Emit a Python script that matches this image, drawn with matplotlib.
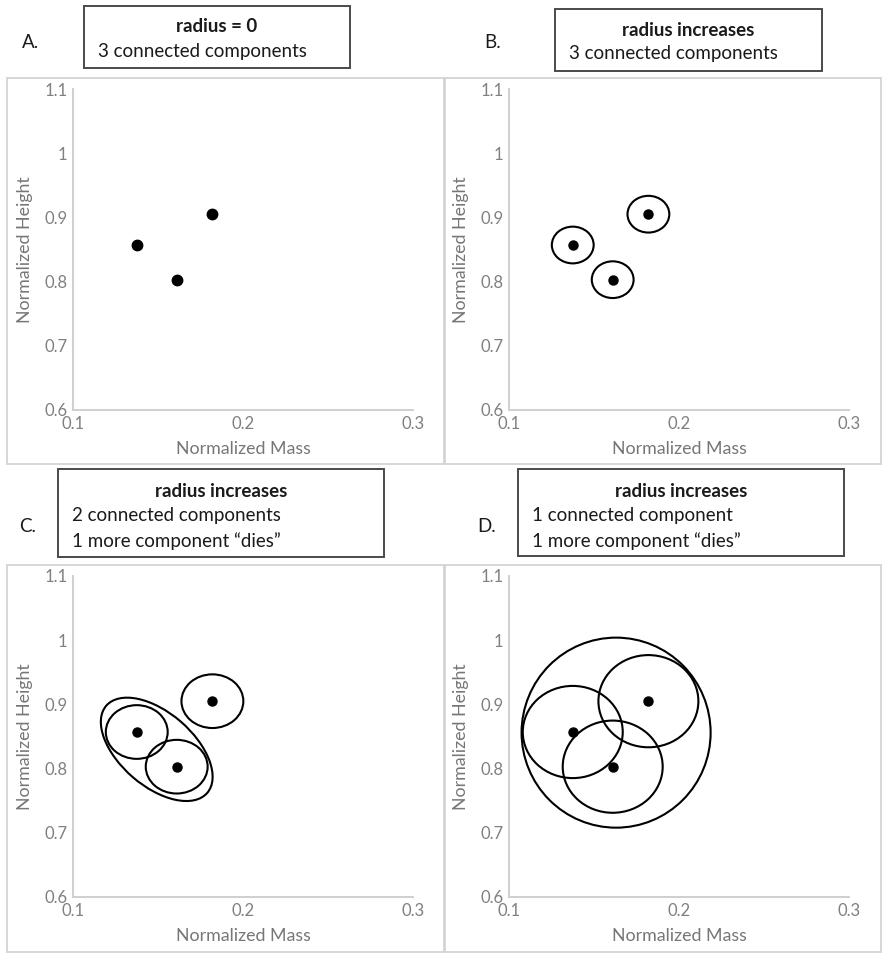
import matplotlib
matplotlib.use("Agg")
import matplotlib.pyplot as plt
from matplotlib.patches import Rectangle, Ellipse
from matplotlib.transforms import ScaledTranslation
import numpy as np

plt.rcParams['font.family'] = ['Lato', 'DejaVu Sans']

# ---- data ----
mass = [0.1375, 0.161, 0.182]
height = [0.857, 0.803, 0.905]
x_ticks = [0.1, 0.2, 0.3]
x_ticklabels = ["0.1", "0.2", "0.3"]
y_ticks = [0.6, 0.7, 0.8, 0.9, 1.0, 1.1]
y_ticklabels = ["0.6", "0.7", "0.8", "0.9", "1", "1.1"]
panel_letters = ["A.", "B.", "C.", "D."]
panel_titles = ["radius = 0", "radius increases", "radius increases", "radius increases"]
panel_lines = [["3 connected components"],
               ["3 connected components"],
               ["2 connected components", "1 more component \u201cdies\u201d"],
               ["1 connected component", "1 more component \u201cdies\u201d"]]
# ball semi-axes (data units) per panel: (x-radius, y-radius); None = no balls
ball_radii = [None, (0.0123, 0.0286), (0.0182, 0.0418), (0.0294, 0.0718)]
# panel C: merged component of points 0 and 1 (semi-axes in inches, angle in degrees)
merged_idx = [0, 1]
merged_axes_in = (0.667, 0.367)
merged_angle = -40.8
# panel D: single enclosing component
big_center = (0.163, 0.856)
big_radii = (0.0556, 0.148)

W, H = 889, 960
fig = plt.figure(figsize=(W / 100, H / 100), dpi=100)

def fx(x):
    return x / W

def fy(y):
    return 1 - y / H

axes_px = [(73, 413, 89, 410), (509, 849, 89, 410), (73, 413, 576, 897), (509, 849, 576, 897)]
frames_px = [(7, 444, 78, 464), (445, 881, 78, 464), (7, 444, 565, 952), (445, 881, 565, 952)]
boxes_px = [(84, 350, 6, 68), (555, 822, 9, 71), (58, 384, 469, 557), (518, 844, 469, 556)]
letters_px = [(30, 42), (493, 43), (28, 527), (487, 527)]
title_y = [[27, 52], [30, 54], [492, 516, 541], [492, 516, 541]]

tick_col = '#808080'
label_col = '#767676'
axis_col = '#cfcfcf'
box_col = '#4a4a4a'
text_col = '#1a1a1a'

for i in range(4):
    # outer frame
    l, r, t, b = frames_px[i]
    fig.patches.append(Rectangle((fx(l), fy(b)), fx(r) - fx(l), fy(t) - fy(b),
                                 transform=fig.transFigure, fill=False,
                                 edgecolor='#d4d4d4', linewidth=1.3))
    # title box
    l, r, t, b = boxes_px[i]
    fig.patches.append(Rectangle((fx(l), fy(b)), fx(r) - fx(l), fy(t) - fy(b),
                                 transform=fig.transFigure, fill=False,
                                 edgecolor=box_col, linewidth=1.4))
    ys = title_y[i]
    fig.text(fx((l + r) / 2), fy(ys[0]), panel_titles[i], ha='center', va='center',
             fontsize=13.5, fontweight='bold', color=text_col)
    for k, line in enumerate(panel_lines[i]):
        fig.text(fx(l + 14), fy(ys[k + 1]), line, ha='left', va='center',
                 fontsize=13.5, color=text_col)
    lx, ly = letters_px[i]
    fig.text(fx(lx), fy(ly), panel_letters[i], ha='center', va='center',
             fontsize=13.5, color=text_col)

    # axes
    l, r, t, b = axes_px[i]
    ax = fig.add_axes([fx(l), fy(b), fx(r) - fx(l), fy(t) - fy(b)])
    ax.set_xlim(0.1, 0.3)
    ax.set_ylim(0.6, 1.1)
    ax.set_xticks(x_ticks)
    ax.set_xticklabels(x_ticklabels)
    ax.set_yticks(y_ticks)
    ax.set_yticklabels(y_ticklabels)
    ax.tick_params(length=0, colors=tick_col, labelsize=12, pad=4)
    for s in ['top', 'right']:
        ax.spines[s].set_visible(False)
    for s in ['left', 'bottom']:
        ax.spines[s].set_color(axis_col)
        ax.spines[s].set_linewidth(1.4)
    ax.set_xlabel("Normalized Mass", color=label_col, fontsize=12.8, labelpad=7)
    ax.set_ylabel("Normalized Height", color=label_col, fontsize=12.8, labelpad=8)
    ax.patch.set_alpha(0)

    ms = 7.5 if i == 0 else 6.5
    ax.plot(mass, height, 'o', color='black', ms=ms, zorder=5, clip_on=False)

    if ball_radii[i] is not None:
        rx, ry = ball_radii[i]
        for xm, yh in zip(mass, height):
            ax.add_patch(Ellipse((xm, yh), 2 * rx, 2 * ry, fill=False,
                                 edgecolor='black', linewidth=1.5))
    if i == 2:
        cx = float(np.mean([mass[j] for j in merged_idx]))
        cy = float(np.mean([height[j] for j in merged_idx]))
        tr = fig.dpi_scale_trans + ScaledTranslation(cx, cy, ax.transData)
        ax.add_patch(Ellipse((0, 0), 2 * merged_axes_in[0], 2 * merged_axes_in[1],
                             angle=merged_angle, transform=tr, fill=False,
                             edgecolor='black', linewidth=1.5))
    if i == 3:
        ax.add_patch(Ellipse(big_center, 2 * big_radii[0], 2 * big_radii[1],
                             fill=False, edgecolor='black', linewidth=1.5))

fig.savefig("out.png", dpi=100)
